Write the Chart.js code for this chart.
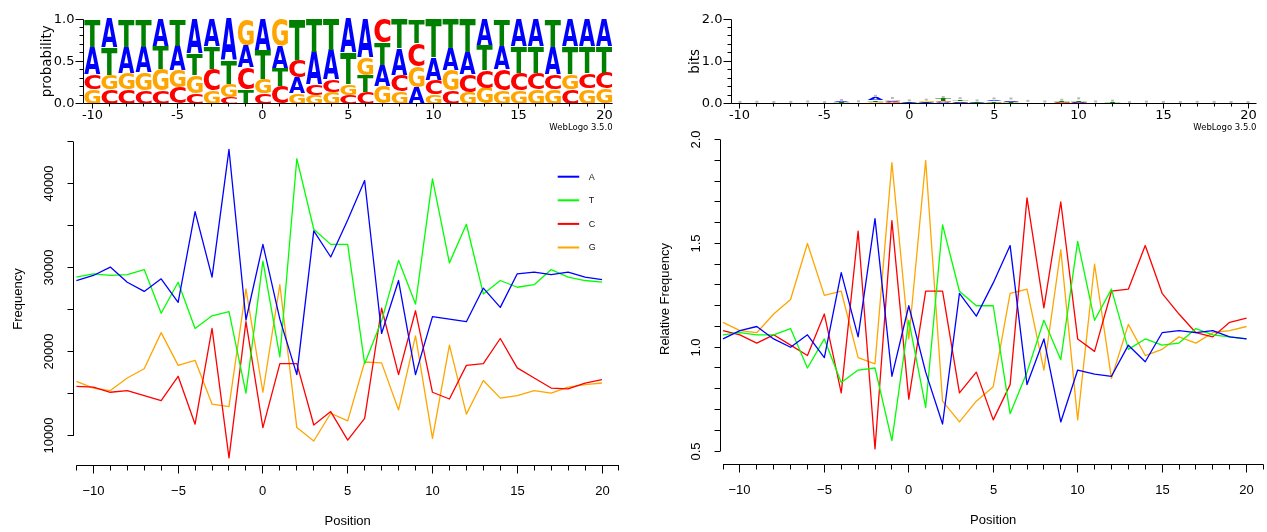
<!DOCTYPE html>
<html>
<head>
<meta charset="utf-8">
<script src="https://cdn.jsdelivr.net/npm/chart.js@4.4.1/dist/chart.umd.min.js"></script>
<style>
  html, body { margin: 0; padding: 0; background: #fff; }
  #wrap { position: relative; width: 1267px; height: 532px; overflow: hidden; background: #fff; }
  canvas { position: absolute; }
</style>
</head>
<body>
<div id="wrap">
  <canvas id="logo-prob" width="640" height="135" style="left:0px;top:0px"></canvas>
  <canvas id="logo-bits" width="627" height="135" style="left:640px;top:0px"></canvas>
  <canvas id="freq-chart" width="630" height="397" style="left:0px;top:135px"></canvas>
  <canvas id="rel-chart" width="637" height="412" style="left:630px;top:120px"></canvas>
</div>
<script>
// --- data ---
const positions = [-11, -10, -9, -8, -7, -6, -5, -4, -3, -2, -1, 0, 1, 2, 3, 4,
                   5, 6, 7, 8, 9, 10, 11, 12, 13, 14, 15, 16, 17, 18, 19, 20];

const freqA = [28500, 29100, 30100, 28300, 27200, 28700, 25900, 36700, 28900, 44100, 23800, 32800, 23900, 17300, 34400, 31300,
               35700, 40400, 22200, 28500, 17300, 24200, 23900, 23600, 27600, 25300, 29300, 29500, 29200, 29500, 28900, 28600];
const freqT = [28900, 29300, 29100, 29200, 29800, 24600, 28300, 22800, 24300, 24800, 15100, 30800, 19400, 43000, 34600, 32800,
               32800, 18600, 23700, 30900, 25700, 40600, 30600, 35200, 26900, 28500, 27700, 28000, 29800, 28900, 28500, 28300];
const freqC = [15900, 15800, 15200, 15400, 14800, 14200, 17100, 11400, 22800, 7400, 23600, 11000, 18600, 18600, 11300, 12900,
               9500, 12100, 25200, 17300, 24900, 15200, 14400, 18400, 18600, 21600, 18100, 16900, 15700, 15600, 16300, 16700];
const freqG = [16500, 15700, 15400, 16900, 18000, 22300, 18400, 19000, 13800, 13500, 27500, 15200, 28000, 11000, 9400, 12700,
               11800, 18800, 18700, 13100, 21900, 9700, 20800, 12600, 16600, 14500, 14800, 15400, 15100, 15800, 16100, 16300];

const relA = [1.04, 1.08, 1.10, 1.04, 1.00, 1.06, 0.95, 1.36, 1.05, 1.62, 0.86, 1.20, 0.88, 0.63, 1.26, 1.15,
              1.31, 1.49, 0.82, 1.04, 0.64, 0.89, 0.87, 0.86, 1.01, 0.93, 1.07, 1.08, 1.07, 1.08, 1.05, 1.04];
const relT = [1.06, 1.07, 1.06, 1.06, 1.09, 0.90, 1.04, 0.83, 0.89, 0.90, 0.55, 1.13, 0.71, 1.59, 1.27, 1.20,
              1.20, 0.68, 0.88, 1.13, 0.94, 1.51, 1.13, 1.28, 0.99, 1.04, 1.01, 1.02, 1.09, 1.06, 1.05, 1.04];
const relC = [1.08, 1.06, 1.02, 1.06, 1.01, 0.96, 1.16, 0.78, 1.56, 0.51, 1.61, 0.75, 1.27, 1.27, 0.78, 0.88,
              0.65, 0.82, 1.72, 1.19, 1.70, 1.04, 0.98, 1.27, 1.28, 1.49, 1.26, 1.16, 1.07, 1.05, 1.12, 1.14];
const relG = [1.12, 1.08, 1.07, 1.16, 1.23, 1.50, 1.25, 1.27, 0.95, 0.92, 1.89, 1.04, 1.90, 0.74, 0.64, 0.74,
              0.81, 1.26, 1.28, 0.89, 1.47, 0.65, 1.40, 0.85, 1.11, 0.96, 0.99, 1.05, 1.02, 1.07, 1.08, 1.10];

// logo columns and axes
const logoPositions = positions.slice(1);
const bases = ['A', 'T', 'C', 'G'];
const background = [0.3, 0.3, 0.2, 0.2];
const probTicks = [0, 0.1, 0.2, 0.3, 0.4, 0.5, 0.6, 0.7, 0.8, 0.9, 1.0];
const probTickLabels = [0, 0.5, 1.0];
const bitsTicks = [0, 0.2, 0.4, 0.6, 0.8, 1.0, 1.2, 1.4, 1.6, 1.8, 2.0];
const bitsTickLabels = [0, 1.0, 2.0];

// R plot axes
const xTicks = [-11, -10, -9, -8, -7, -6, -5, -4, -3, -2, -1, 0, 1, 2, 3, 4, 5,
                6, 7, 8, 9, 10, 11, 12, 13, 14, 15, 16, 17, 18, 19, 20, 21];
const xTickLabels = [-10, -5, 0, 5, 10, 15, 20];
const freqTicks = [10000, 15000, 20000, 25000, 30000, 35000, 40000, 45000];
const freqTickLabels = [10000, 20000, 30000, 40000];
const relTicks = [0.5, 0.6, 0.7, 0.8, 0.9, 1.0, 1.1, 1.2, 1.3, 1.4, 1.5, 1.6, 1.7, 1.8, 1.9, 2.0];
const relTickLabels = [0.5, 1.0, 1.5, 2.0];

const logoColors = { A: '#0000ff', T: '#008000', C: '#ff0000', G: '#ffa500' };
const lineColors = { A: '#0000ff', T: '#00ff00', C: '#ff0000', G: '#ffa500' };

// --- helpers ---
function hline(ctx, x1, x2, y) {
  ctx.beginPath(); ctx.moveTo(x1, y); ctx.lineTo(x2, y); ctx.stroke();
}
function vline(ctx, x, y1, y2) {
  ctx.beginPath(); ctx.moveTo(x, y1); ctx.lineTo(x, y2); ctx.stroke();
}
const crisp = v => Math.round(v - 0.5) + 0.5;

function drawLetter(ctx, ch, left, top, w, h, color) {
  ctx.save();
  ctx.font = 'bold 100px "DejaVu Sans"';
  const m = ctx.measureText(ch);
  const gw = m.actualBoundingBoxLeft + m.actualBoundingBoxRight;
  const gh = m.actualBoundingBoxAscent + m.actualBoundingBoxDescent;
  ctx.translate(left, top);
  ctx.scale(w / gw, h / gh);
  ctx.fillStyle = color;
  ctx.textAlign = 'left';
  ctx.textBaseline = 'alphabetic';
  ctx.fillText(ch, m.actualBoundingBoxLeft, m.actualBoundingBoxAscent);
  ctx.restore();
}

// stacks of letters, smallest at the bottom
function logoStacks(useBits) {
  const layers = [[], [], [], []];
  const letters = [[], [], [], []];
  const totals = [];
  logoPositions.forEach(pos => {
    const i = positions.indexOf(pos);
    const counts = [freqA[i], freqT[i], freqC[i], freqG[i]];
    const sum = counts.reduce((a, b) => a + b, 0);
    const p = counts.map(c => c / sum);
    let h = 1;
    if (useBits) {
      h = Math.max(0, p.reduce((s, pk, k) => s + pk * Math.log2(pk / background[k]), 0));
    }
    totals.push(h);
    const order = [0, 1, 2, 3].sort((a, b) => p[a] - p[b]);
    order.forEach((k, r) => { layers[r].push(p[k] * h); letters[r].push(bases[k]); });
  });
  const datasets = layers.map((d, r) => ({
    data: d, letters: letters[r],
    backgroundColor: 'rgba(0,0,0,0)', borderWidth: 0,
    barPercentage: 1, categoryPercentage: 1
  }));
  return { datasets, totals };
}

function weblogoPlugin(cfg) {
  return {
    id: 'weblogo',
    afterDatasetsDraw(chart) {
      const ctx = chart.ctx;
      const y = chart.scales.y;
      chart.data.datasets.forEach((ds, di) => {
        chart.getDatasetMeta(di).data.forEach((bar, i) => {
          const { x, y: top, base, width } = bar.getProps(['x', 'y', 'base', 'width'], true);
          const h = base - top;
          if (h < 0.4) return;
          const w = width * 0.94;
          drawLetter(ctx, ds.letters[i], x - w / 2, top, w, h, logoColors[ds.letters[i]]);
        });
      });
      if (cfg.errorBars) {
        ctx.save();
        ctx.fillStyle = '#b8b8b8';
        cfg.errorBars.forEach((t, i) => {
          const px = chart.scales.x.getPixelForValue(i);
          const py = y.getPixelForValue(t);
          ctx.fillRect(px - 1.5, py - 2.5, 3, 2);
        });
        ctx.restore();
      }
    },
    afterDraw(chart) {
      const { ctx, chartArea: a, scales: { x, y } } = chart;
      ctx.save();
      ctx.strokeStyle = '#000';
      ctx.fillStyle = '#000';
      ctx.lineWidth = 1;
      const y0 = crisp(y.getPixelForValue(0));
      const xa = crisp(a.left);
      vline(ctx, xa, y0, crisp(y.getPixelForValue(cfg.yMax)));
      ctx.font = '13px "DejaVu Sans"';
      ctx.textAlign = 'right';
      ctx.textBaseline = 'middle';
      cfg.yTicks.forEach(v => {
        const py = crisp(y.getPixelForValue(v));
        const major = cfg.yTickLabels.includes(v);
        hline(ctx, xa - (major ? 8 : 4), xa, py);
        if (major) ctx.fillText(v.toFixed(1), xa - 9, py);
      });
      hline(ctx, a.left, a.right, y0);
      ctx.textAlign = 'center';
      logoPositions.forEach((pos, i) => {
        const px = crisp(x.getPixelForValue(i));
        const major = pos % 5 === 0;
        vline(ctx, px, y0, y0 + (major ? 5 : 3));
        if (major) ctx.fillText(String(pos), px, y0 + 12);
      });
      ctx.save();
      ctx.font = '13.5px "DejaVu Sans"';
      ctx.translate(cfg.titleX, y.getPixelForValue(cfg.yMax / 2));
      ctx.rotate(-Math.PI / 2);
      ctx.fillText(cfg.title, 0, 0);
      ctx.restore();
      ctx.font = '8.5px "DejaVu Sans"';
      ctx.textAlign = 'right';
      ctx.fillText('WebLogo 3.5.0', a.right, 128);
      ctx.restore();
    }
  };
}

function makeLogo(id, stacks, cfg, pad) {
  new Chart(document.getElementById(id), {
    type: 'bar',
    data: { labels: logoPositions.map(String), datasets: stacks.datasets },
    options: {
      responsive: false, animation: false, devicePixelRatio: 1,
      layout: { padding: pad },
      plugins: { legend: { display: false }, tooltip: { enabled: false } },
      scales: {
        x: { display: false, stacked: true },
        y: { display: false, stacked: true, min: 0, max: cfg.yMax }
      }
    },
    plugins: [weblogoPlugin(cfg)]
  });
}

function fmtR(v) {
  return v < 0 ? '\u2212' + Math.abs(v) : String(v);
}

function rAxes(cfg) {
  return {
    id: 'rAxes',
    afterDraw(chart) {
      const { ctx, chartArea: a, scales: { x, y } } = chart;
      ctx.save();
      ctx.strokeStyle = '#000';
      ctx.fillStyle = '#000';
      ctx.lineWidth = 1;
      ctx.font = '13px "Liberation Sans"';
      // x axis
      const ay = crisp(cfg.xAxisY);
      hline(ctx, x.getPixelForValue(xTicks[0]), x.getPixelForValue(xTicks[xTicks.length - 1]), ay);
      ctx.textAlign = 'center';
      ctx.textBaseline = 'middle';
      xTicks.forEach(v => {
        const px = crisp(x.getPixelForValue(v));
        const major = xTickLabels.includes(v);
        vline(ctx, px, ay, ay + (major ? 8 : 5));
        if (major) ctx.fillText(fmtR(v), px, ay + 26);
      });
      const midX = (x.getPixelForValue(xTicks[0]) + x.getPixelForValue(xTicks[xTicks.length - 1])) / 2;
      ctx.fillText('Position', midX, ay + 56);
      // y axis
      const ax = crisp(x.getPixelForValue(cfg.yAxisAt));
      vline(ctx, ax, y.getPixelForValue(cfg.yTicks[0]), y.getPixelForValue(cfg.yTicks[cfg.yTicks.length - 1]));
      cfg.yTicks.forEach(v => {
        const py = crisp(y.getPixelForValue(v));
        hline(ctx, ax - 6, ax, py);
        if (cfg.yTickLabels.includes(v)) {
          ctx.save();
          ctx.translate(ax - 24.5, py);
          ctx.rotate(-Math.PI / 2);
          ctx.fillText(cfg.fmt(v), 0, 0);
          ctx.restore();
        }
      });
      ctx.save();
      ctx.translate(ax - 55, (a.top + a.bottom) / 2);
      ctx.rotate(-Math.PI / 2);
      ctx.fillText(cfg.title, 0, 0);
      ctx.restore();
      // legend
      if (cfg.legend) {
        ctx.font = '9px "Liberation Sans"';
        ctx.textAlign = 'left';
        chart.data.datasets.forEach((ds, i) => {
          const ly = cfg.legend.y + i * cfg.legend.gap;
          ctx.strokeStyle = ds.borderColor;
          ctx.lineWidth = 2;
          hline(ctx, cfg.legend.x, cfg.legend.x + 21.5, ly);
          ctx.fillStyle = '#111';
          ctx.fillText(ds.label, cfg.legend.x + 31, ly + 0.5);
        });
      }
      ctx.restore();
    }
  };
}

function lineSet(label, values) {
  return {
    label,
    data: positions.map((p, i) => ({ x: p, y: values[i] })),
    borderColor: lineColors[label],
    borderWidth: 1.3,
    borderJoinStyle: 'round',
    pointRadius: 0,
    tension: 0,
    fill: false
  };
}

function makeLines(id, series, range, pad, cfg) {
  new Chart(document.getElementById(id), {
    type: 'line',
    data: { datasets: series.map(s => lineSet(s[0], s[1])) },
    options: {
      responsive: false, animation: false, devicePixelRatio: 1,
      layout: { padding: pad },
      plugins: { legend: { display: false }, tooltip: { enabled: false } },
      scales: {
        x: { type: 'linear', display: false, min: range.xMin, max: range.xMax },
        y: { type: 'linear', display: false, min: range.yMin, max: range.yMax }
      }
    },
    plugins: [rAxes(cfg)]
  });
}

// --- PAGE INIT ---
const probStacks = logoStacks(false);
makeLogo('logo-prob', probStacks,
  { yMax: 1, yTicks: probTicks, yTickLabels: probTickLabels, title: 'probability', titleX: 47.7 },
  { left: 83.7, right: 27.4, top: 19, bottom: 31.3 });

const bitsStacks = logoStacks(true);
makeLogo('logo-bits', bitsStacks,
  { yMax: 2, yTicks: bitsTicks, yTickLabels: bitsTickLabels, title: 'bits', titleX: 55, errorBars: bitsStacks.totals },
  { left: 91.5, right: 10.5, top: 19, bottom: 31.3 });

makeLines('freq-chart',
  [['A', freqA], ['T', freqT], ['C', freqC], ['G', freqG]],
  { xMin: -11.377, xMax: 21.06, yMin: 6900, yMax: 45700 },
  { left: 70, right: 10, top: 1, bottom: 70 },
  { xAxisY: 330, yAxisAt: -11.2, yTicks: freqTicks, yTickLabels: freqTickLabels,
    fmt: v => String(v), title: 'Frequency', legend: { x: 557.7, y: 41.7, gap: 23.6 } });

makeLines('rel-chart',
  [['A', relA], ['T', relT], ['C', relC], ['G', relG]],
  { xMin: -12.362, xMax: 21.21, yMin: 0.447, yMax: 2.018 },
  { left: 70, right: 0, top: 16, bottom: 70 },
  { xAxisY: 344, yAxisAt: -11.12, yTicks: relTicks, yTickLabels: relTickLabels,
    fmt: v => v.toFixed(1), title: 'Relative Frequency' });
</script>
</body>
</html>
